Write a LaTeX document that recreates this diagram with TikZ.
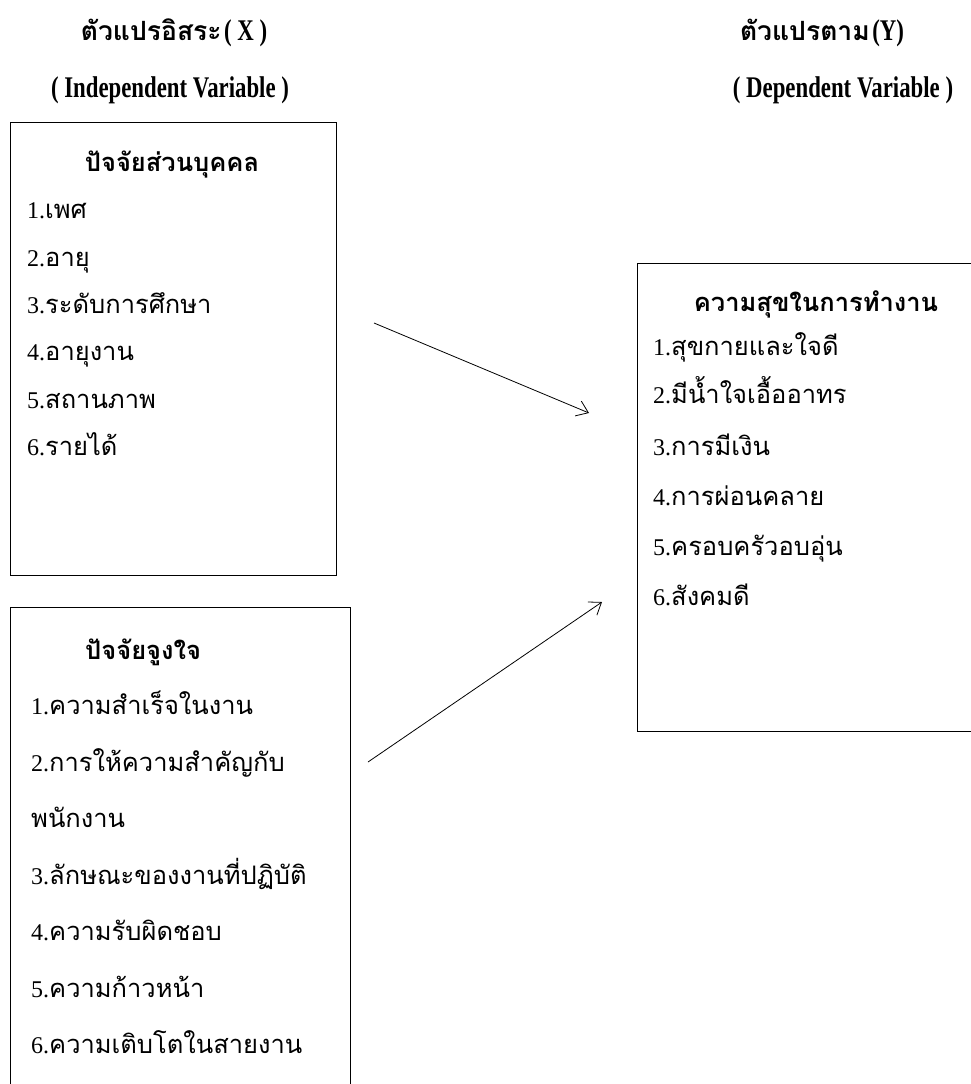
\documentclass[tikz,border=0pt]{standalone}
\usepackage{fontspec}
\setmainfont{Liberation Serif}
\newfontfamily\thai[Script=Thai]{Loma}
\newfontfamily\hdr[FakeStretch=0.76]{Liberation Serif}
\usetikzlibrary{arrows.meta}
\newcommand\itm[2]{{\fontsize{24}{26}\selectfont #1{\thai\fontsize{25.5}{27}\selectfont #2}}}
\newcommand\hth[1]{{\thai\bfseries\fontsize{26.5}{28}\selectfont #1}}
\newcommand\hla[1]{{\hdr\bfseries\fontsize{30}{32}\selectfont #1}}
\tikzset{
  boxframe/.style={draw, line width=1.4pt, inner sep=0pt, anchor=north west},
  itemtext/.style={anchor=base west, inner sep=0pt},
  headtext/.style={anchor=base, inner sep=0pt},
  titletext/.style={anchor=base, inner sep=0pt, font=\thai\bfseries\fontsize{25.5}{27}\selectfont},
  link/.style={line width=0.8pt, -{Straight Barb[length=11pt,width=16pt,line width=0.8pt]}}
}
\begin{document}
\begin{tikzpicture}[x=1pt,y=-1pt]
\clip (0,0) rectangle (971,1084);
\fill[white] (0,0) rectangle (971,1084);
% headers
\node[headtext] (hx) at (174,40) {\hth{ตัวแปรอิสระ} \hla{( X )}};
\node[headtext] (hxe) at (170,97) {\hla{( Independent Variable )}};
\node[headtext] (hy) at (822,40) {\hth{ตัวแปรตาม} \hla{(Y)}};
\node[headtext] (hye) at (843,97) {\hla{( Dependent Variable )}};
% box 1
\node[boxframe, minimum width=326pt, minimum height=453pt] (box1) at (10,122) {};
\node[titletext] (t1) at (172,171) {ปัจจัยส่วนบุคคล};
\node[itemtext] (b1i1) at (27,218) {\itm{1.}{เพศ}};
\node[itemtext] (b1i2) at (27,266) {\itm{2.}{อายุ}};
\node[itemtext] (b1i3) at (27,313) {\itm{3.}{ระดับการศึกษา}};
\node[itemtext] (b1i4) at (27,360) {\itm{4.}{อายุงาน}};
\node[itemtext] (b1i5) at (27,408) {\itm{5.}{สถานภาพ}};
\node[itemtext] (b1i6) at (27,455) {\itm{6.}{รายได้}};
% box 2
\node[boxframe, minimum width=340pt, minimum height=500pt] (box2) at (10,607) {};
\node[titletext, anchor=base west] (t2) at (85,659) {ปัจจัยจูงใจ};
\node[itemtext] (b2i1) at (31,714) {\itm{1.}{ความสำเร็จในงาน}};
\node[itemtext] (b2i2) at (31,771) {\itm{2.}{การให้ความสำคัญกับ}};
\node[itemtext] (b2i2b) at (31,827) {\itm{}{พนักงาน}};
\node[itemtext] (b2i3) at (31,884) {\itm{3.}{ลักษณะของงานที่ปฏิบัติ}};
\node[itemtext] (b2i4) at (31,940) {\itm{4.}{ความรับผิดชอบ}};
\node[itemtext] (b2i5) at (31,997) {\itm{5.}{ความก้าวหน้า}};
\node[itemtext] (b2i6) at (31,1053) {\itm{6.}{ความเติบโตในสายงาน}};
% box 3
\node[boxframe, minimum width=360pt, minimum height=468pt] (box3) at (637,263) {};
\node[titletext] (t3) at (816,311) {ความสุขในการทำงาน};
\node[itemtext] (b3i1) at (653,355) {\itm{1.}{สุขกายและใจดี}};
\node[itemtext] (b3i2) at (653,403) {\itm{2.}{มีน้ำใจเอื้ออาทร}};
\node[itemtext] (b3i3) at (653,455) {\itm{3.}{การมีเงิน}};
\node[itemtext] (b3i4) at (653,505) {\itm{4.}{การผ่อนคลาย}};
\node[itemtext] (b3i5) at (653,555) {\itm{5.}{ครอบครัวอบอุ่น}};
\node[itemtext] (b3i6) at (653,605) {\itm{6.}{สังคมดี}};
% arrows
\coordinate (a1s) at (374,323);
\coordinate (a1e) at (589,413);
\coordinate (a2s) at (368,762);
\coordinate (a2e) at (602,602);
\draw[link] (a1s) -- (a1e);
\draw[link] (a2s) -- (a2e);
\end{tikzpicture}
\end{document}
